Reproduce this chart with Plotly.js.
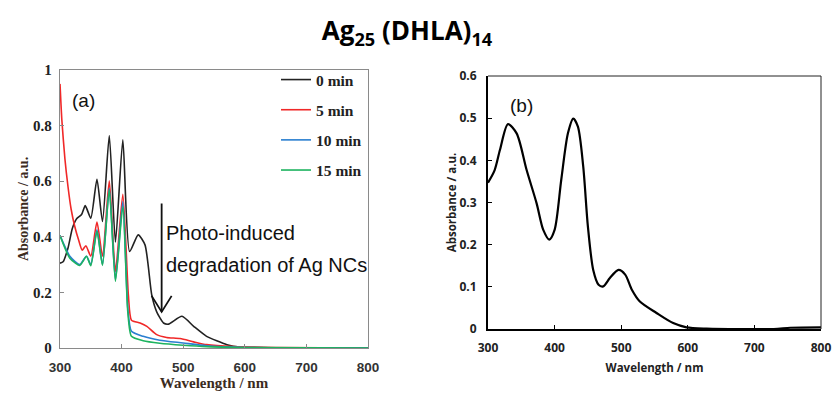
<!DOCTYPE html>
<html>
<head>
<meta charset="utf-8">
<script src="https://cdn.plot.ly/plotly-3.0.1.min.js"></script>
<style>html,body{margin:0;padding:0;background:#fff;}#chart{width:832px;height:399px;}</style>
</head>
<body>
<div id="chart"></div>
<script>
// Panel (a): photo-degradation spectra
const seriesNames = ["0 min", "5 min", "10 min", "15 min"];
const wl0 = [300,305,313,320,327,335,341,350,360,369,380,390,402,413,427,438,449,457,468,476,498,517,538,571,592,650,700,800];
const abs0 = [0.305,0.31,0.36,0.43,0.465,0.48,0.512,0.467,0.607,0.455,0.764,0.381,0.749,0.347,0.407,0.371,0.19,0.13,0.09,0.086,0.114,0.078,0.042,0.012,0.003,0.001,0.0,0.0];
const wl5 = [300,303,308,313,318,324,330,336,342,350,360,369,380,390,402,411,416,430,441,457,473,495,517,538,582,650,800];
const abs5 = [0.95,0.82,0.68,0.58,0.5,0.437,0.39,0.352,0.368,0.33,0.453,0.33,0.601,0.275,0.553,0.19,0.10,0.09,0.078,0.048,0.038,0.034,0.022,0.012,0.005,0.002,0.0];
const wl10 = [300,316,332,343,350,360,369,380,390,402,410,416,435,462,500,538,600,800];
const abs10 = [0.405,0.33,0.30,0.33,0.30,0.425,0.30,0.575,0.245,0.527,0.144,0.06,0.042,0.028,0.018,0.008,0.002,0.0];
const wl15 = [300,316,332,343,350,360,369,380,390,402,410,416,435,462,500,538,600,800];
const abs15 = [0.405,0.323,0.297,0.33,0.296,0.42,0.297,0.569,0.24,0.509,0.132,0.042,0.026,0.017,0.01,0.005,0.002,0.0];
// Panel (b): Ag25(DHLA)14 spectrum
const wlB = [300,310,318,330,343,358,373,383,392,400,410,420,428,435,443,450,458,466,473,483,496,506,516,528,553,578,598,628,729,754,800];
const absB = [0.347,0.377,0.425,0.486,0.464,0.377,0.298,0.235,0.212,0.235,0.354,0.464,0.499,0.48,0.385,0.243,0.14,0.105,0.101,0.121,0.14,0.129,0.093,0.065,0.038,0.014,0.004,0.001,0.0,0.003,0.004];

const colors = ["#222222", "#f02828", "#2a7fd0", "#1db35f"];
const serif = "Liberation Serif, Times New Roman, serif";
const sans = "Liberation Sans, Arial, sans-serif";
const cal = "Open Sans, sans-serif";

const W = 832, H = 399;
const px = v => v / W, py = v => 1 - v / H;

const aX = [wl0, wl5, wl10, wl15];
const aY = [abs0, abs5, abs10, abs15];
const traces = aX.map((x, i) => ({
  x: x, y: aY[i], type: "scatter", mode: "lines", name: seriesNames[i],
  legendgroup: "g" + i,
  line: {color: colors[i], width: 1.6, shape: "spline", smoothing: 0.6},
  xaxis: "x", yaxis: "y"
}));
traces.push({
  x: wlB, y: absB, type: "scatter", mode: "lines", showlegend: false,
  line: {color: "#000", width: 2.2, shape: "spline", smoothing: 0.8},
  xaxis: "x2", yaxis: "y2"
});

const layout = {
  width: W, height: H,
  margin: {l: 0, r: 0, t: 0, b: 0},
  paper_bgcolor: "#fff", plot_bgcolor: "#fff",
  title: {text: "Ag<sub>25</sub> (DHLA)<sub>14</sub>", x: 407 / W, xanchor: "center", y: py(31), yanchor: "middle",
    font: {family: cal, size: 26, weight: "bold", color: "#000"}},
  showlegend: true,
  legend: {x: px(276), y: py(63), xanchor: "left", yanchor: "top", traceorder: "grouped", tracegroupgap: 7,
    bgcolor: "rgba(0,0,0,0)", font: {family: serif, size: 15.5, weight: "bold", color: "#222"}, itemwidth: 30},
  xaxis: {domain: [px(60), px(368)], range: [300, 800], dtick: 100, anchor: "y",
    showline: true, mirror: true, linecolor: "#8a8a8a", linewidth: 1.3, ticks: "inside", ticklen: 4, tickcolor: "#8a8a8a",
    showgrid: false, zeroline: false, ticklabelstandoff: 6,
    tickfont: {family: sans, size: 13.5, weight: "bold", color: "#333"},
    title: {text: "Wavelength / nm", standoff: 4, font: {family: serif, size: 15, weight: "bold", color: "#3b2b1e"}}},
  yaxis: {domain: [py(348), py(70)], range: [0, 1], dtick: 0.2, anchor: "x",
    showline: true, mirror: true, linecolor: "#8a8a8a", linewidth: 1.3, ticks: "inside", ticklen: 4, tickcolor: "#8a8a8a",
    showgrid: false, zeroline: false, ticklabelstandoff: 4,
    tickfont: {family: serif, size: 15, weight: "bold", color: "#222"},
    title: {text: "Absorbance / a.u.", standoff: 1, font: {family: serif, size: 14, weight: "bold", color: "#3b2b1e"}}},
  xaxis2: {domain: [px(488), px(821)], range: [300, 800], dtick: 100, anchor: "y2",
    showline: true, mirror: false, linecolor: "#000", linewidth: 2, ticks: "inside", ticklen: 4, tickcolor: "#000",
    showgrid: false, zeroline: false, ticklabelstandoff: 7,
    tickfont: {family: cal, size: 12, weight: "bold", color: "#222"},
    title: {text: "Wavelength / nm", standoff: 9, font: {family: cal, size: 11.5, weight: "bold", color: "#222"}}},
  yaxis2: {domain: [py(329), py(76)], range: [0, 0.6], dtick: 0.1, anchor: "x2",
    showline: true, mirror: false, linecolor: "#000", linewidth: 2, ticks: "inside", ticklen: 4, tickcolor: "#000",
    showgrid: false, zeroline: false, ticklabelstandoff: 7,
    tickfont: {family: cal, size: 12, weight: "bold", color: "#222"},
    title: {text: "Absorbance / a.u.", standoff: 0, font: {family: cal, size: 11.5, weight: "bold", color: "#222"}}},
  shapes: [
    {type: "line", xref: "x2 domain", yref: "y2 domain", x0: 0, x1: 1, y0: 1, y1: 1, line: {color: "#222", width: 1}},
    {type: "line", xref: "x2 domain", yref: "y2 domain", x0: 1, x1: 1, y0: 0, y1: 1, line: {color: "#222", width: 1}},
    // arrow head (open V), sized in pixels around the arrow tip
    {type: "path", xref: "x", yref: "y", xsizemode: "pixel", ysizemode: "pixel", xanchor: 465, yanchor: 0.13,
      path: "M-10,16 L0,0 L10,16", line: {color: "#111", width: 1.8}}
  ],
  annotations: [
    {text: "(a)", xref: "x", yref: "y", x: 317, y: 0.892, xanchor: "left", yanchor: "middle", showarrow: false,
      font: {family: sans, size: 19, color: "#111"}},
    {text: "(b)", xref: "x2", yref: "y2", x: 330, y: 0.531, xanchor: "left", yanchor: "middle", showarrow: false,
      font: {family: sans, size: 19, color: "#111"}},
    {text: "Photo-induced", xref: "x", yref: "y", x: 469, y: 0.414, xanchor: "left", yanchor: "middle", showarrow: false,
      font: {family: sans, size: 20, color: "#111"}},
    {text: "degradation of Ag NCs", xref: "x", yref: "y", x: 469, y: 0.299, xanchor: "left", yanchor: "middle", showarrow: false,
      font: {family: sans, size: 20, color: "#111"}},
    {text: "", xref: "x", yref: "y", x: 465, y: 0.13, axref: "x", ayref: "y", ax: 465, ay: 0.525, showarrow: true,
      arrowhead: 0, arrowwidth: 1.8, arrowcolor: "#111"}
  ]
};

Plotly.newPlot("chart", traces, layout, {displayModeBar: false, staticPlot: true});
</script>
</body>
</html>
